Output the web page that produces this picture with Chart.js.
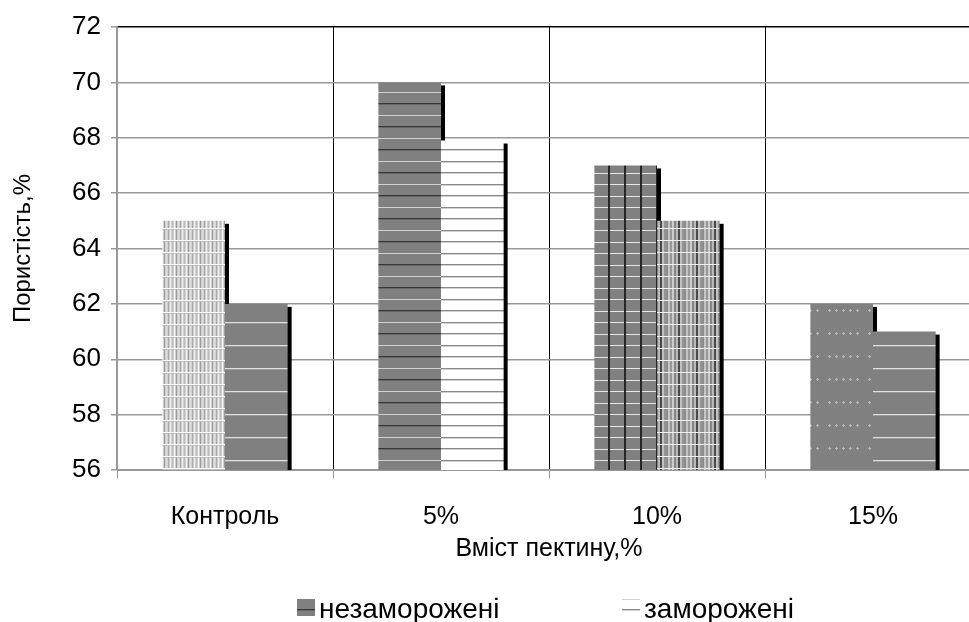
<!DOCTYPE html>
<html>
<head>
<meta charset="utf-8">
<script src="https://cdn.jsdelivr.net/npm/chart.js@4/dist/chart.umd.min.js"></script>
<style>
  html, body { margin: 0; padding: 0; background: #fff; overflow: hidden; }
  #wrap { width: 985px; height: 622px; }
</style>
</head>
<body>
<div id="wrap"><canvas id="chart" width="985" height="622"></canvas></div>
<script>
const categories = ['Контроль', '5%', '10%', '15%'];
const seriesNames = ['незаморожені', 'заморожені'];
const unfrozen = [65, 70, 67, 62];
const frozen = [62, 67.9, 65, 61];
const yTicks = [56, 58, 60, 62, 64, 66, 68, 70, 72];

const FONT = "'Liberation Sans', Arial, sans-serif";

// small hatch tiles, one per bar like the original
function makePattern(w, h, draw) {
  const c = document.createElement('canvas');
  c.width = w; c.height = h;
  const g = c.getContext('2d');
  draw(g, w, h);
  return g.createPattern(c, 'repeat');
}

function hLine(g, y, w, color) { g.fillStyle = color; g.fillRect(0, y, w, 1); }
function vLine(g, x, h, color, lw) { g.fillStyle = color; g.fillRect(x, 0, lw || 1, h); }

const pLightStripes = makePattern(12, 12, (g, w, h) => {
  g.fillStyle = '#d0d0d0'; g.fillRect(0, 0, w, h);
  const cols = ['#a8a8a8', '#eeeeee', '#bcbcbc', '#f4f4f4', '#9c9c9c', '#e0e0e0'];
  for (let x = 0; x < w; x += 2) vLine(g, x, h, cols[(x / 2) % cols.length], 1);
  hLine(g, 0, w, '#ffffff');
  hLine(g, 1, w, '#bdbdbd');
});

const pGrayWide = makePattern(8, 23, (g, w, h) => {
  g.fillStyle = '#808080'; g.fillRect(0, 0, w, h);
  hLine(g, 0, w, '#e0e0e0');
  hLine(g, 1, w, '#9a9a9a');
});

const pGrayDense = makePattern(8, 23, (g, w, h) => {
  g.fillStyle = '#808080'; g.fillRect(0, 0, w, h);
  hLine(g, 0, w, '#d0d0d0');
  hLine(g, 11, w, '#383838');
  hLine(g, 12, w, '#666666');
});

const pWhiteLines = makePattern(8, 23, (g, w, h) => {
  g.fillStyle = '#ffffff'; g.fillRect(0, 0, w, h);
  hLine(g, 0, w, '#8a8a8a');
  hLine(g, 1, w, '#d0d0d0');
  hLine(g, 11, w, '#8a8a8a');
  hLine(g, 12, w, '#d0d0d0');
});

const pGrid = makePattern(16, 23, (g, w, h) => {
  g.fillStyle = '#808080'; g.fillRect(0, 0, w, h);
  hLine(g, 0, w, '#e4e4e4');
  hLine(g, 12, w, '#e4e4e4');
  vLine(g, 0, h, '#262626', 2);
});

const pMidStripes = makePattern(18, 12, (g, w, h) => {
  g.fillStyle = '#a0a0a0'; g.fillRect(0, 0, w, h);
  const cols = ['#8c8c8c', '#c4c4c4', '#989898', '#cccccc', '#858585', '#b8b8b8', '#4a4a4a', '#c0c0c0', '#949494'];
  for (let x = 0; x < w; x += 2) vLine(g, x, h, cols[(x / 2) % cols.length], 2);
  hLine(g, 0, w, '#eeeeee');
});

const pDots = makePattern(40, 23, (g, w, h) => {
  g.fillStyle = '#808080'; g.fillRect(0, 0, w, h);
  g.fillStyle = '#b8b8b8';
  [3, 10, 17, 29, 36].forEach(x => {
    g.fillRect(x, 10, 1, 3);
    g.fillRect(x - 1, 11, 3, 1);
  });
});

const unfrozenColors = [pLightStripes, pGrayDense, pGrid, pDots];
const frozenColors = [pGrayWide, pWhiteLines, pMidStripes, pGrayWide];
const legendFills = [pGrayDense, pWhiteLines];

// black edge on the right of each bar, drawn under all bars
const barShadow = {
  id: 'barShadow',
  beforeDatasetsDraw(chart) {
    const ctx = chart.ctx;
    const bottom = chart.chartArea.bottom;
    ctx.save();
    ctx.fillStyle = '#000';
    chart.data.datasets.forEach((ds, i) => {
      chart.getDatasetMeta(i).data.forEach(el => {
        const p = el.getProps(['x', 'y', 'width'], true);
        ctx.fillRect(p.x + p.width / 2 - 1, p.y + 3, 5, bottom - p.y - 3);
      });
    });
    ctx.restore();
  }
};

// legend spread out under the plot, like the original
const spreadLegend = {
  id: 'spreadLegend',
  afterDraw(chart) {
    const ctx = chart.ctx;
    const starts = [297, 622];
    const baseline = 618;
    ctx.save();
    ctx.font = '28px ' + FONT;
    ctx.textBaseline = 'alphabetic';
    seriesNames.forEach((name, i) => {
      const x = starts[i];
      ctx.fillStyle = legendFills[i];
      ctx.fillRect(x, baseline - 19, 18, 17);
      ctx.fillStyle = '#000';
      ctx.fillText(name, x + 22, baseline);
    });
    ctx.restore();
  }
};

new Chart(document.getElementById('chart'), {
  type: 'bar',
  data: {
    labels: categories,
    datasets: [
      { label: seriesNames[0], data: unfrozen, backgroundColor: unfrozenColors, borderWidth: 0 },
      { label: seriesNames[1], data: frozen, backgroundColor: frozenColors, borderWidth: 0 }
    ]
  },
  options: {
    responsive: false,
    animation: false,
    devicePixelRatio: 1,
    layout: { padding: { top: 27, right: 4, left: 0, bottom: 0 } },
    datasets: { bar: { categoryPercentage: 0.58, barPercentage: 1 } },
    plugins: {
      tooltip: { enabled: false },
      legend: { display: false }
    },
    scales: {
      x: {
        grid: {
          offset: true,
          color: c => c.index === 0 ? '#999' : '#000',
          tickColor: '#999',
          tickLength: 8,
          lineWidth: 1
        },
        border: { color: '#999', width: 1 },
        ticks: { color: '#000', font: { family: FONT, size: 25 }, padding: 24 },
        title: {
          display: true,
          text: 'Вміст пектину,%',
          color: '#000',
          font: { family: FONT, size: 25 },
          padding: { top: 0, bottom: 58 }
        },
        afterFit(scale) { scale.height = 152; }
      },
      y: {
        min: 56,
        max: 72,
        afterBuildTicks(scale) { scale.ticks = yTicks.map(v => ({ value: v })); },
        grid: {
          color: c => c.tick && c.tick.value === 72 ? '#000' : '#999',
          tickColor: '#999',
          tickLength: 6,
          lineWidth: 1.5
        },
        border: { color: '#999', width: 1.5 },
        ticks: { color: '#000', font: { family: FONT, size: 26 }, padding: 10 },
        title: {
          display: true,
          text: 'Пористість,%',
          color: '#000',
          font: { family: FONT, size: 24 },
          padding: { top: 9, bottom: 0 }
        },
        afterFit(scale) { scale.width = 117; }
      }
    }
  },
  plugins: [barShadow, spreadLegend]
});
</script>
</body>
</html>
